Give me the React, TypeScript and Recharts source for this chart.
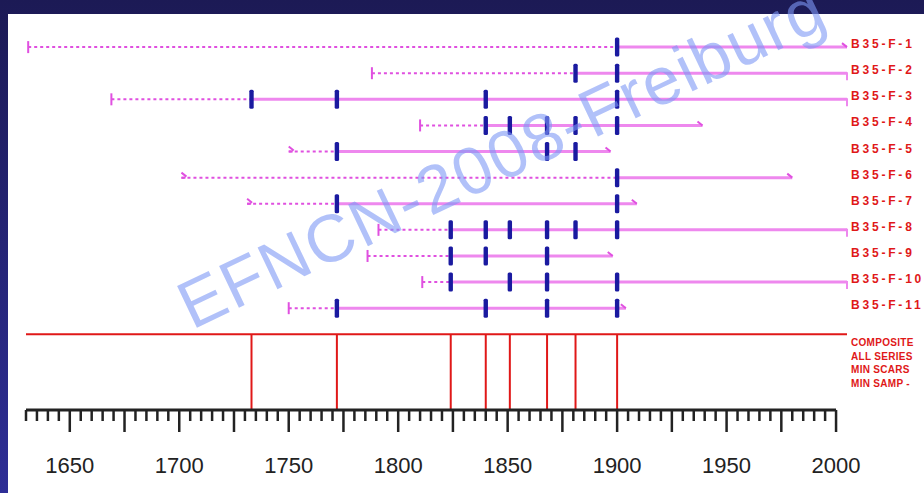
import React from "react";
import {
  ComposedChart,
  Line,
  Scatter,
  XAxis,
  YAxis,
  ReferenceLine,
} from "recharts";

const series = [
  "B35-F-1",
  "B35-F-2",
  "B35-F-3",
  "B35-F-4",
  "B35-F-5",
  "B35-F-6",
  "B35-F-7",
  "B35-F-8",
  "B35-F-9",
  "B35-F-10",
  "B35-F-11",
];
const innerYears = [1631, 1788, 1669, 1810, 1750, 1701, 1731, 1791, 1786, 1811, 1750];
const outerYears = [2005, 2005, 2005, 1939, 1897, 1980, 1909, 2005, 1898, 2005, 1904];
const innerKind = ["pith", "pith", "pith", "pith", "none", "none", "none", "pith", "pith", "pith", "pith"];
const outerKind = ["none", "bark", "bark", "none", "none", "none", "none", "bark", "none", "bark", "none"];
const scarYears = [
  [1900],
  [1881, 1900],
  [1733, 1772, 1840, 1900],
  [1840, 1851, 1868, 1881, 1900],
  [1772, 1868, 1881],
  [1900],
  [1772, 1900],
  [1824, 1840, 1851, 1868, 1881, 1900],
  [1824, 1840, 1868],
  [1824, 1851, 1868, 1900],
  [1772, 1840, 1868, 1900],
];
const compositeYears = [1733, 1772, 1824, 1840, 1851, 1868, 1881, 1900];
const compositeLabels = ["COMPOSITE", "ALL SERIES", "MIN SCARS", "MIN SAMP -"];
const compositeRow = 12;
const axisStart = 1630;
const axisEnd = 2000;
const xTicks: number[] = [];
for (let t = axisStart; t <= axisEnd; t += 5) xTicks.push(t);

const PINK = "#ee88ee";
const DOT_PINK = "#e050e0";
const SCAR = "#1a1aa0";
const RED = "#e01818";
const BOTTOM = 14.9;

const rows = series.map((name, i) => ({
  name,
  row: i + 1,
  inner: innerYears[i],
  outer: outerYears[i],
  first: scarYears[i][0],
}));

const scarPoints = scarYears.flatMap((ys, i) => ys.map((x) => ({ x, y: i + 1 })));
const innerPoints = rows.map((r, i) => ({ x: r.inner, y: r.row, kind: innerKind[i] }));
const outerPoints = rows.map((r, i) => ({ x: r.outer, y: r.row, kind: outerKind[i] }));

const ScarMark = (p: any) => (
  <rect x={p.cx - 2.2} y={p.cy - 9.5} width={4.4} height={19} rx={1.5} fill={SCAR} />
);

const InnerMark = (p: any) =>
  p.payload.kind === "pith" ? (
    <line x1={p.cx} x2={p.cx} y1={p.cy - 6} y2={p.cy + 6} stroke={DOT_PINK} strokeWidth={2} />
  ) : (
    <path d={`M${p.cx + 5},${p.cy - 1} L${p.cx},${p.cy - 5} M${p.cx},${p.cy} L${p.cx + 4},${p.cy}`} stroke={DOT_PINK} strokeWidth={2} fill="none" />
  );

const OuterMark = (p: any) =>
  p.payload.kind === "bark" ? (
    <line x1={p.cx} x2={p.cx} y1={p.cy - 1} y2={p.cy + 7} stroke={PINK} strokeWidth={2} />
  ) : (
    <path d={`M${p.cx - 5},${p.cy - 4} L${p.cx},${p.cy}`} stroke={DOT_PINK} strokeWidth={2} fill="none" />
  );

const XTick = (p: any) => {
  const v = p.payload.value;
  const len = v % 25 === 0 ? 22 : 11;
  return (
    <g>
      <line x1={p.x} x2={p.x} y1={p.y} y2={p.y + len} stroke="#222" strokeWidth={2.5} />
      {v % 50 === 0 && (
        <text x={p.x} y={p.y + 63} textAnchor="middle" fontSize={22} fill="#222" fontFamily="Liberation Sans, Arial, sans-serif">
          {v}
        </text>
      )}
    </g>
  );
};

const YTick = (p: any) => {
  const v = p.payload.value;
  if (v === compositeRow) {
    return (
      <g>
        {compositeLabels.map((t, i) => (
          <text key={t} x={p.x} y={p.y + 12 + i * 13.6} fontSize={10} fontWeight="bold" letterSpacing={0.3} fill={RED} fontFamily="Liberation Sans, Arial, sans-serif">
            {t}
          </text>
        ))}
      </g>
    );
  }
  return (
    <text x={p.x} y={p.y + 1} fontSize={12} fontWeight="bold" letterSpacing={2.8} fill={RED} fontFamily="Liberation Sans, Arial, sans-serif">
      {series[v - 1]}
    </text>
  );
};

export default function App() {
  return (
    <div style={{ position: "absolute", left: 0, top: 0, width: 924, height: 493, background: "linear-gradient(#1c1a55, #2e2e96)", overflow: "hidden" }}>
      <div style={{ position: "absolute", left: 8, top: 14, width: 916, height: 479, background: "#fff" }} />
      <div style={{ position: "absolute", left: 0, top: 0 }}>
        <ComposedChart width={924} height={493} margin={{ top: 21, right: 0, bottom: 0, left: 26 }}>
          <XAxis
            dataKey="x"
            type="number"
            domain={[axisStart, 2005]}
            ticks={xTicks}
            interval={0}
            tick={<XTick />}
            axisLine={false}
            tickLine={false}
            tickSize={0}
            tickMargin={0}
            height={83}
          />
          <YAxis
            type="number"
            orientation="right"
            domain={[0, BOTTOM]}
            reversed
            ticks={[...rows.map((r) => r.row), compositeRow]}
            interval={0}
            tick={<YTick />}
            axisLine={false}
            tickLine={false}
            tickSize={0}
            tickMargin={4}
            width={77}
          />
          <ReferenceLine segment={[{ x: axisStart, y: compositeRow }, { x: 2005, y: compositeRow }]} stroke={RED} strokeWidth={2} />
          {compositeYears.map((yr) => (
            <ReferenceLine key={yr} segment={[{ x: yr, y: compositeRow }, { x: yr, y: BOTTOM }]} stroke={RED} strokeWidth={2} />
          ))}
          <ReferenceLine segment={[{ x: axisStart, y: BOTTOM }, { x: axisEnd, y: BOTTOM }]} stroke="#222" strokeWidth={3} />
          {rows.map((r) => (
            <Line
              key={r.name + "-dot"}
              data={[{ x: r.inner, y: r.row }, { x: r.first, y: r.row }]}
              dataKey="y"
              stroke={DOT_PINK}
              strokeWidth={2}
              strokeDasharray="3 3"
              dot={false}
              activeDot={false}
              isAnimationActive={false}
            />
          ))}
          {rows.map((r) => (
            <Line
              key={r.name + "-solid"}
              data={[{ x: r.first, y: r.row }, { x: r.outer, y: r.row }]}
              dataKey="y"
              stroke={PINK}
              strokeWidth={3}
              dot={false}
              activeDot={false}
              isAnimationActive={false}
            />
          ))}
          <Scatter data={innerPoints} dataKey="y" shape={InnerMark} isAnimationActive={false} />
          <Scatter data={outerPoints} dataKey="y" shape={OuterMark} isAnimationActive={false} />
          <Scatter data={scarPoints} dataKey="y" shape={ScarMark} isAnimationActive={false} />
        </ComposedChart>
      </div>
      <svg width={924} height={493} style={{ position: "absolute", left: 0, top: 0, pointerEvents: "none" }}>
        <text
          x={192}
          y={330}
          transform="rotate(-25.5 192 330)"
          fontSize={67}
          letterSpacing={1.8}
          fill="#7d97f5"
          fillOpacity={0.6}
          fontFamily="Liberation Sans, Arial, sans-serif"
        >
          EFNCN-2008-Freiburg
        </text>
      </svg>
    </div>
  );
}
